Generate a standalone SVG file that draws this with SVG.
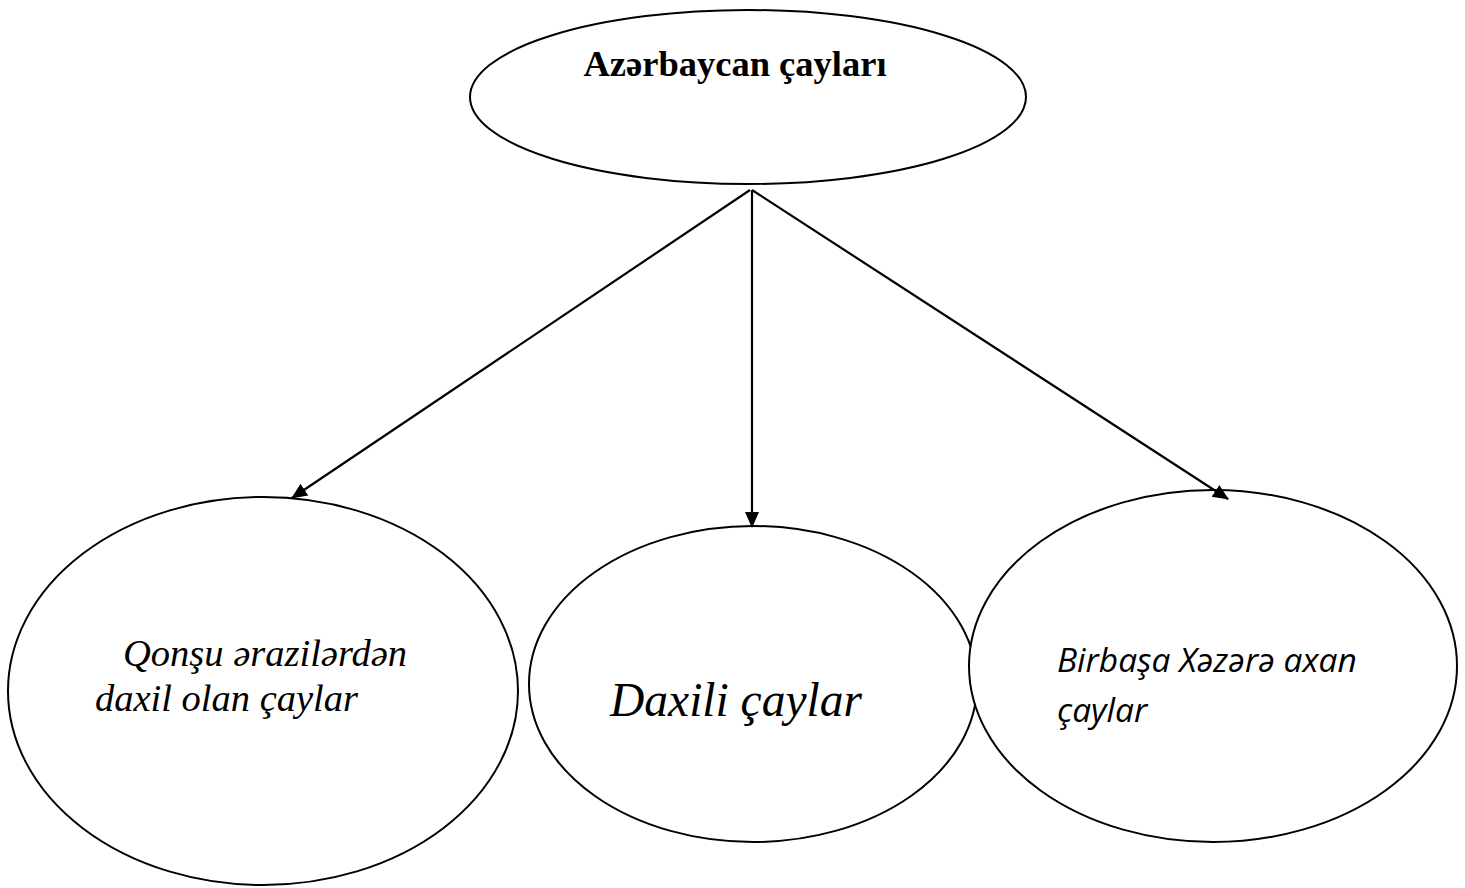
<svg xmlns="http://www.w3.org/2000/svg" width="1465" height="888" viewBox="0 0 1465 888">
<style>
.node{fill:#fff;stroke:#000;stroke-width:2}
.conn{stroke:#000;stroke-width:2.2;fill:none}
.serif{font-family:"Liberation Serif","Times New Roman",serif;fill:#000}
.sans{font-family:"Open Sans","Liberation Sans",sans-serif;fill:#000}
</style>
<defs>
<marker id="arr" markerWidth="16" markerHeight="16" refX="15" refY="8" orient="auto" markerUnits="userSpaceOnUse" viewBox="0 0 16 16">
<path d="M0,1 L16,8 L0,15 z" fill="#000"/>
</marker>
</defs>
<rect width="1465" height="888" fill="#fff"/>
<g id="n-top">
<ellipse class="node" cx="748" cy="97" rx="278" ry="87"/>
<text class="serif" x="735" y="76" font-size="36.5" font-weight="bold" text-anchor="middle">Azərbaycan çayları</text>
</g>
<g id="n-left">
<ellipse class="node" cx="263" cy="691" rx="255" ry="194"/>
<text class="serif" font-size="38.5" font-style="italic"><tspan x="123" y="666">Qonşu ərazilərdən</tspan><tspan x="95" y="711">daxil olan çaylar</tspan></text>
</g>
<g id="n-mid">
<ellipse class="node" cx="753" cy="684" rx="224" ry="158"/>
<text class="serif" x="610" y="716" font-size="47.5" font-style="italic">Daxili çaylar</text>
</g>
<g id="n-right">
<ellipse class="node" cx="1213" cy="666" rx="244" ry="176"/>
<text class="sans" font-size="33.5" font-style="italic"><tspan x="1057" y="672">Birbaşa Xəzərə axan</tspan><tspan x="1057" y="722">çaylar</tspan></text>
</g>
<g id="connectors">
<line class="conn" x1="750" y1="190" x2="292" y2="498" marker-end="url(#arr)"/>
<line class="conn" x1="752" y1="190" x2="752" y2="527" marker-end="url(#arr)"/>
<line class="conn" x1="752" y1="190" x2="1228" y2="499" marker-end="url(#arr)"/>
</g>
</svg>
